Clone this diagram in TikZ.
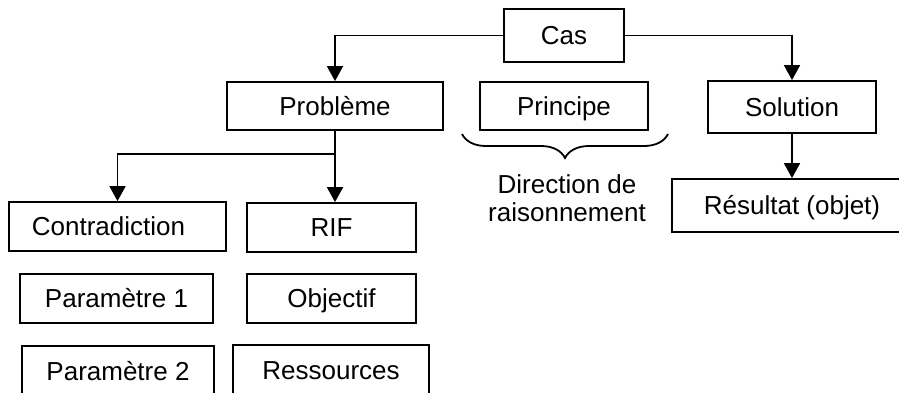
\documentclass[tikz,border=0pt]{standalone}
\usepackage{fontspec}
\setmainfont{Liberation Sans}
\usetikzlibrary{arrows.meta,decorations.pathreplacing,calc}
\begin{document}
\begin{tikzpicture}[x=1pt,y=-1pt,
  font=\fontsize{26}{29}\selectfont,
  box/.style={draw=black,line width=1.8pt,inner xsep=0pt,inner ysep=0pt,
    text height=18.7pt,text depth=0pt,fill=white},
  arr/.style={draw=black,line width=1.8pt,-{Triangle[width=16pt,length=15pt]}},
  bracestyle/.style={draw=black,line width=1.8pt,decorate,
    decoration={brace,mirror,amplitude=24pt}}]
\useasboundingbox (0,0) rectangle (899,392);
\node[box,minimum width=120pt,minimum height=53pt] (cas) at (564,35.5) {Cas};
\node[box,minimum width=216pt,minimum height=48pt] (prob) at (335,106) {Problème};
\node[box,minimum width=168pt,minimum height=48pt] (prin) at (564,106) {Principe};
\node[box,minimum width=168pt,minimum height=52pt] (sol) at (792,107) {Solution};
\node[box,minimum width=217pt,minimum height=49pt] (contra) at (117.5,226.5) {Contradiction\hspace*{18pt}};
\node[box,minimum width=169pt,minimum height=49pt] (rif) at (331.5,227.5) {RIF};
\node[box,minimum width=240pt,minimum height=53pt] (res) at (792,205.5) {Résultat (objet)};
\node[box,minimum width=193pt,minimum height=49pt] (p1) at (116.5,298.5) {Paramètre 1};
\node[box,minimum width=169pt,minimum height=49pt] (obj) at (331.5,298.5) {Objectif};
\node[box,minimum width=192pt,minimum height=50pt] (p2) at (118,371) {Paramètre 2};
\node[box,minimum width=196pt,minimum height=51pt] (ress) at (331,370.5) {Ressources};
\node[align=center,inner sep=0pt,font=\fontsize{26}{28}\selectfont] (dir) at (567,198) {Direction de\\raisonnement};
\coordinate (bl) at (462,134);
\coordinate (bre) at (668,134);
\draw[bracestyle] (bl) -- (bre);
\draw[arr] (cas.west) -| (prob.north);
\draw[arr] (cas.east) -| (sol.north);
\draw[arr] (sol.south) -- (res.north);
\coordinate (split) at ($(prob.south)+(0,23)$);
\draw[arr] (prob.south) -- (prob.south |- rif.north);
\draw[arr] (prob.south |- split) -| (contra.north);
\end{tikzpicture}
\end{document}
